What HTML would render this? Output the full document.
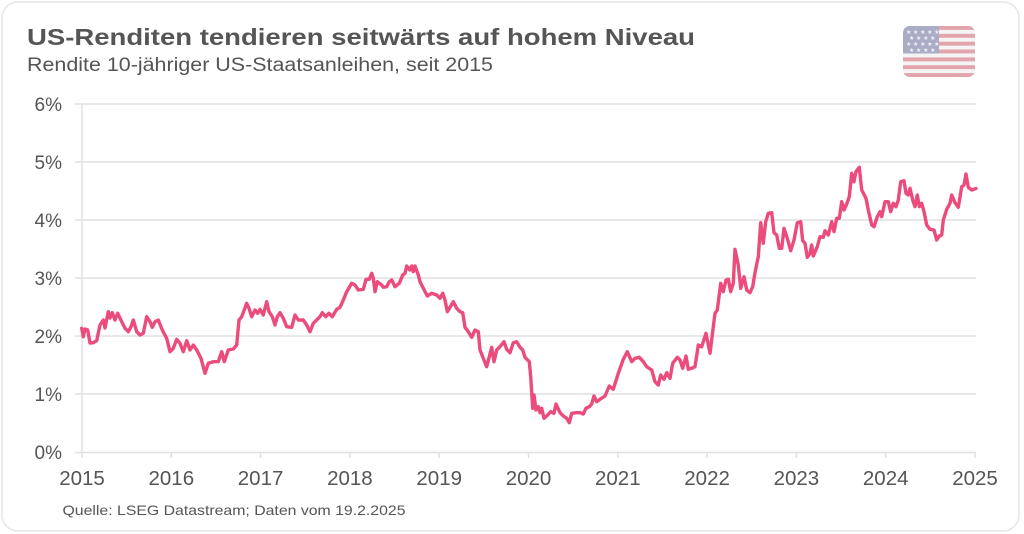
<!DOCTYPE html>
<html><head><meta charset="utf-8">
<style>
html,body{margin:0;padding:0;background:#fff;}
svg{display:block;}
text{font-family:"Liberation Sans",Arial,sans-serif;fill:#555;}
</style></head>
<body>
<svg width="1024" height="534" viewBox="0 0 1024 534" xmlns="http://www.w3.org/2000/svg">
<rect x="2" y="2" width="1017" height="529" rx="16" ry="16" fill="#fff" stroke="#e6e6e6" stroke-width="1.5"/>
<text x="27" y="45" font-size="23" font-weight="bold" textLength="668" lengthAdjust="spacingAndGlyphs">US-Renditen tendieren seitwärts auf hohem Niveau</text>
<text x="27" y="71" font-size="19" textLength="466" lengthAdjust="spacingAndGlyphs">Rendite 10-jähriger US-Staatsanleihen, seit 2015</text>
<!-- flag -->
<defs><clipPath id="fc"><rect x="903" y="26" width="72" height="51" rx="7" ry="7"/></clipPath></defs>
<g clip-path="url(#fc)">
<rect x="903" y="26" width="72" height="51" fill="#f4f4f4"/>
<g fill="#e2a5ad">
<rect x="903" y="26" width="72" height="3.92"/>
<rect x="903" y="33.85" width="72" height="3.92"/>
<rect x="903" y="41.7" width="72" height="3.92"/>
<rect x="903" y="49.5" width="72" height="3.92"/>
<rect x="903" y="57.4" width="72" height="3.92"/>
<rect x="903" y="65.2" width="72" height="3.92"/>
<rect x="903" y="73.1" width="72" height="3.92"/>
</g>
<rect x="903" y="26" width="36" height="27.5" fill="#aaacc6"/>
<g fill="#f2f2f6" font-size="5">
<text x="906" y="34" style="fill:#f2f2f6" font-size="6">★ ★ ★ ★ ★</text>
<text x="909" y="40" style="fill:#f2f2f6" font-size="6">★ ★ ★ ★</text>
<text x="906" y="46" style="fill:#f2f2f6" font-size="6">★ ★ ★ ★ ★</text>
<text x="909" y="52" style="fill:#f2f2f6" font-size="6">★ ★ ★ ★</text>
</g>
</g>
<!-- grid -->
<g stroke="#e0e0e0" stroke-width="1.5">
<line x1="75" y1="104" x2="976" y2="104"/>
<line x1="75" y1="162" x2="976" y2="162"/>
<line x1="75" y1="220" x2="976" y2="220"/>
<line x1="75" y1="278" x2="976" y2="278"/>
<line x1="75" y1="336" x2="976" y2="336"/>
<line x1="75" y1="394" x2="976" y2="394"/>
<line x1="75" y1="452.5" x2="976" y2="452.5"/>
<line x1="82" y1="104" x2="82" y2="458"/>
<line x1="171.3" y1="452" x2="171.3" y2="458"/>
<line x1="260.6" y1="452" x2="260.6" y2="458"/>
<line x1="349.9" y1="452" x2="349.9" y2="458"/>
<line x1="439.2" y1="452" x2="439.2" y2="458"/>
<line x1="528.5" y1="452" x2="528.5" y2="458"/>
<line x1="617.8" y1="452" x2="617.8" y2="458"/>
<line x1="707.1" y1="452" x2="707.1" y2="458"/>
<line x1="796.4" y1="452" x2="796.4" y2="458"/>
<line x1="885.7" y1="452" x2="885.7" y2="458"/>
<line x1="975" y1="452" x2="975" y2="458"/>
</g>
<g font-size="19" text-anchor="end">
<text x="62" y="111">6%</text>
<text x="62" y="169">5%</text>
<text x="62" y="227">4%</text>
<text x="62" y="285">3%</text>
<text x="62" y="343">2%</text>
<text x="62" y="401">1%</text>
<text x="62" y="459">0%</text>
</g>
<g font-size="20.5" text-anchor="middle">
<text x="82" y="485">2015</text>
<text x="171.3" y="485">2016</text>
<text x="260.6" y="485">2017</text>
<text x="349.9" y="485">2018</text>
<text x="439.2" y="485">2019</text>
<text x="528.5" y="485">2020</text>
<text x="617.8" y="485">2021</text>
<text x="707.1" y="485">2022</text>
<text x="796.4" y="485">2023</text>
<text x="885.7" y="485">2024</text>
<text x="975" y="485">2025</text>
</g>
<text x="62.5" y="515" font-size="14" textLength="343" lengthAdjust="spacingAndGlyphs">Quelle: LSEG Datastream; Daten vom 19.2.2025</text>
<polyline fill="none" stroke="#eb4c7b" stroke-width="3.4" stroke-linejoin="round" stroke-linecap="round" points="
81.7,328.3 83.3,336.7 85,329 87.7,330 90,343 93.3,342.7 96.7,340.7 100,325 103.3,320 105,328 108.3,311.7 110,318 112.3,312.7 115,320 117.7,313.3 121.7,321.7 125,328.3 128.3,331.7 131,326.7 133.3,320 136.7,331.7 140,335 143.3,333.3 146.7,316.7 150,321.7 152.3,327.3 155,321.7 158.3,320 162.3,330 166.7,338.3 170,351.7 173.3,348.3 176.7,339.3 180,343.3 183.3,351.7 186.7,340.7 190,350 193.3,345 196.7,350 201,358.3 205,373.3 208.3,363.3 213.3,361.7 218.3,361.7 221.7,351.7 224.3,361.7 228.3,350 233.3,349 236.7,345 239,320 241.7,316.7 246.7,303.3 249,308.3 251.7,316.7 255,310 257.7,313.3 260,309.3 263.3,315 266.7,301.7 269,311.7 272.3,316.7 275,325 277.3,316.7 280,312.7 283.3,318.3 286.7,326.7 291.7,327.3 295,315 298.3,320 303.3,320 306.7,325 310,331.7 313.3,323.3 316.7,320 320,316.7 322.3,312.7 325.7,316.7 329,313.3 332.3,316.7 336.7,309.3 340,307.3 343.3,300 346.7,291.7 351.7,283.3 355,285 358.3,290 363.3,289.3 366,279.3 369.3,279.3 371.7,273.3 373.3,278.3 375,291.7 377.3,281.7 381.7,285 383.3,287.3 386.7,286.7 389.3,281.7 391.7,280 395,286.7 399.3,283.3 402.7,275 405,273.3 406.7,266 410,270 411.7,266 413.3,271.7 415,266 418.3,275 420,281.7 423.3,288.3 427.3,296 431.7,293.3 436.7,295 440,298.3 442.7,293.3 445,300 447.3,311.7 450,307.3 453.3,301.7 456.7,308.3 460,311.7 462.7,312.7 465,327.3 468.3,331.7 471.7,337.3 475,330 478.3,331.7 480,350 483.3,358.3 486.7,366.7 489.3,356.7 491.7,347.3 494,361.7 496.7,350 500,346.7 504,341.7 506.7,349.3 510,352.7 513.3,342.7 516.7,341.7 520,347.3 522.7,350 525,357.3 529.3,361.7 530.7,376.7 532.7,408.3 534,395 536,410 538.3,406.7 540,412.7 541.7,408.3 544,418.3 546.7,416 550.7,411.7 554,413.3 556,404 560,412.7 563.3,416 566.7,418.3 569.3,422.7 571.7,413.3 576.7,412.7 580,412.7 583.3,414 586,408.3 589.3,406.7 591.7,404 594,396 596.7,401.7 600,399.3 605,396 609.3,386 613.3,389.3 618.3,373.3 623.3,359.3 627.3,351.7 631.7,361.7 635,358.3 639.3,357.3 643.3,361.7 646.7,366.7 651.7,370 655,381.7 658.3,385 660.7,375 664,379.3 666.7,372.7 670,378.3 672.7,363.3 677.3,357.3 680,360 682.7,368.3 686,356 688.3,369.3 691.7,368.3 695,366.7 698.3,345 701.7,346.7 706,333.3 710,353.3 715,313.3 717.3,310 720.7,283.3 723.3,291.7 726,280 728.3,279.3 730.7,291.7 733.3,283.3 735,249.3 738.3,265 740.7,288.3 744,276.7 746.7,290 750,292.7 752.7,286.7 755,272.7 758.3,256.7 760.7,222.7 763.3,243.3 765.7,221.7 768.3,213.3 771.7,212.7 774,232.7 776.7,235 779.3,248.3 781.7,248.3 784,228.3 787.3,238.3 790.7,250.7 794,240 797.3,222.7 800.7,221.7 802.7,240.7 805,243.3 807.3,257.3 810,253.3 811.7,245 813.3,256 817.3,246.7 820,236.7 823.3,237.3 825,230.7 828.3,235 831.7,221.7 834,231.7 836.7,218.3 839.3,218.3 841.7,201.7 844,210 846.7,204 849.3,196.7 851.7,173.3 854,181.7 856,171.7 859.3,167.3 861.7,190 866,198.3 868.3,210 871.7,225 874,226.7 877.3,216.7 880,211.7 881.7,216.7 885,201.7 888.3,201.7 890.7,211.7 893.3,203.3 896,206.7 898.3,200 900.7,181.7 904,180.7 906,193.3 908.3,195 910,188.3 912.7,200 915,206.7 917.3,195 919.3,206.7 921.7,203.3 924,211.7 926.7,225 930,229.3 934,230 936.7,240 939.3,236 941.7,235 943.3,220 946.7,209.3 950,203.3 951.7,195 955,202.7 958.3,207.3 961.7,186.7 964,185 966,174 968.3,187.3 971.7,190 976,188.5"/>
</svg>
</body></html>
